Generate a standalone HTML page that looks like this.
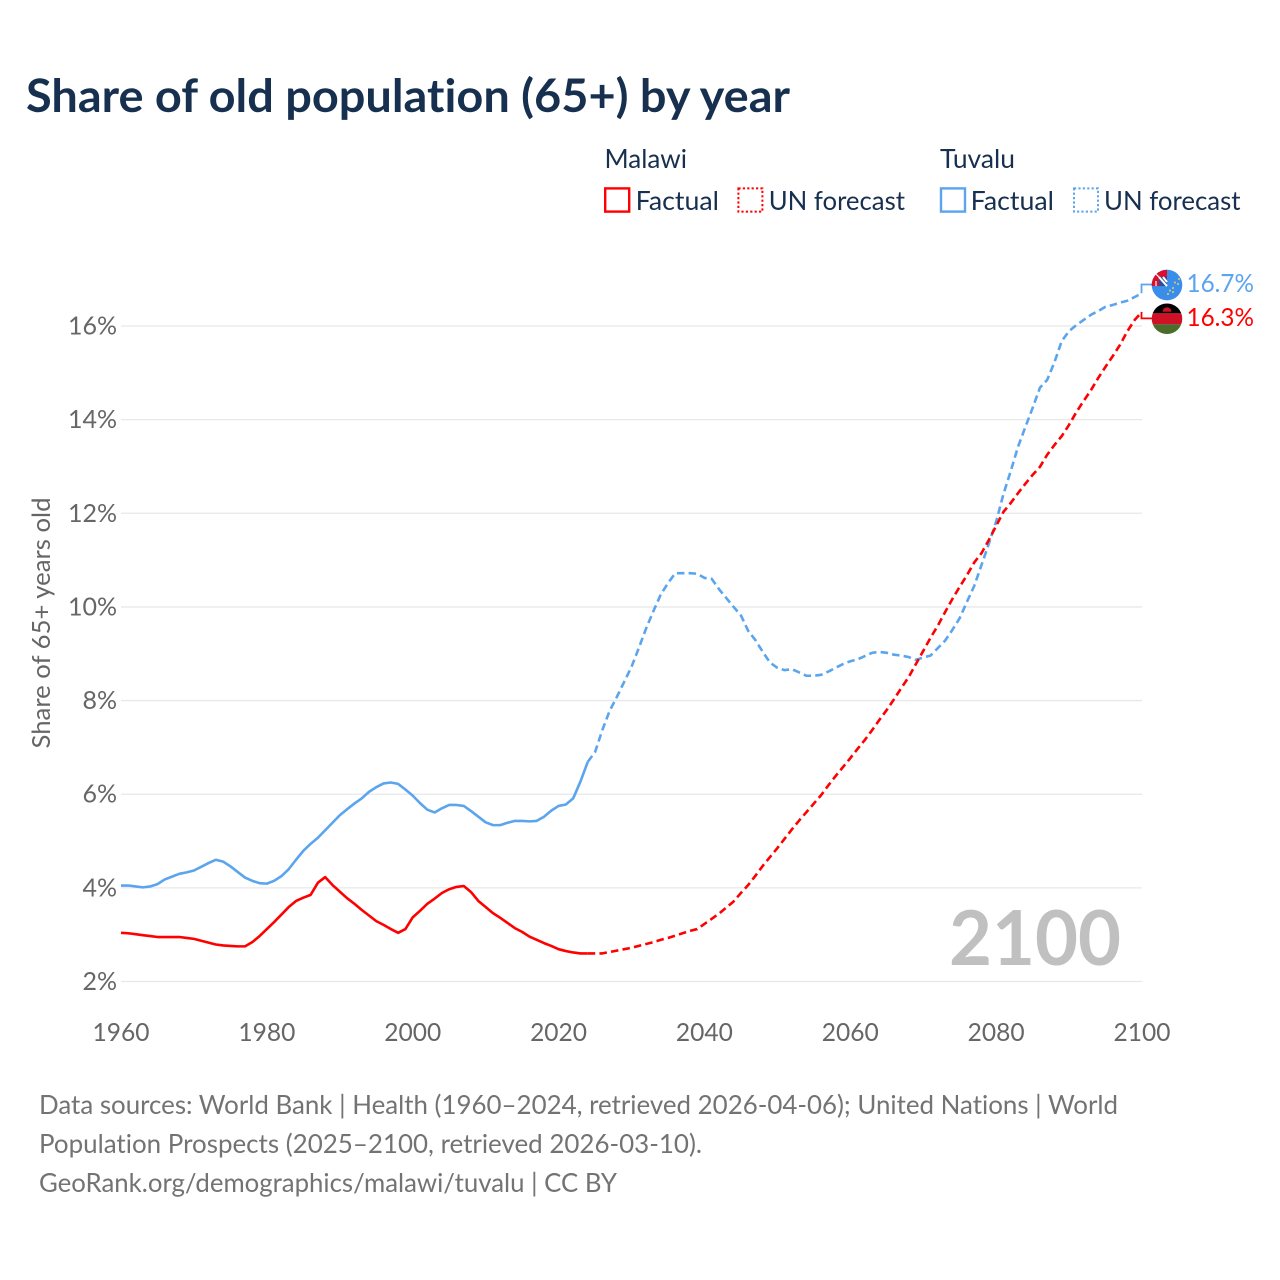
<!DOCTYPE html>
<html lang="en">
<head>
<meta charset="utf-8">
<title>Share of old population (65+) by year</title>
<style>
html,body{margin:0;padding:0;background:#fff;width:1280px;height:1280px;overflow:hidden}
svg{display:block}
text{font-family:"Lato","Carlito","Liberation Sans",sans-serif;font-variant-ligatures:none}
</style>
</head>
<body>
<svg id="chart" xmlns="http://www.w3.org/2000/svg" width="1280" height="1280" viewBox="0 0 1280 1280">
  <defs>
    <clipPath id="flag-clip"><circle cx="0" cy="0" r="15.3"></circle></clipPath>
  </defs>
  <rect x="0" y="0" width="1280" height="1280" fill="#ffffff"></rect>
  <text x="26" y="112" font-size="46" font-weight="700" fill="#17304f" textLength="764" lengthAdjust="spacingAndGlyphs">Share of old population (65+) by year</text>

  <g font-size="26" fill="#17304f">
    <text x="604.5" y="168" textLength="82.5" lengthAdjust="spacingAndGlyphs">Malawi</text>
    <text x="940" y="168" textLength="75" lengthAdjust="spacingAndGlyphs">Tuvalu</text>
    <rect x="605.2" y="188.4" width="24" height="23.2" fill="none" stroke="#ff0000" stroke-width="2.4"></rect>
    <text x="635.7" y="210" textLength="83.3" lengthAdjust="spacingAndGlyphs">Factual</text>
    <rect x="738.4" y="188.4" width="24" height="23.2" fill="none" stroke="#ff0000" stroke-width="2" stroke-dasharray="2.2 2.2"></rect>
    <text x="768.7" y="210" textLength="136.3" lengthAdjust="spacingAndGlyphs">UN forecast</text>
    <rect x="941" y="188.4" width="24" height="23.2" fill="none" stroke="#5ba4ee" stroke-width="2.4"></rect>
    <text x="970.7" y="210" textLength="83.3" lengthAdjust="spacingAndGlyphs">Factual</text>
    <rect x="1074" y="188.4" width="24" height="23.2" fill="none" stroke="#5ba4ee" stroke-width="2" stroke-dasharray="2.2 2.2"></rect>
    <text x="1104" y="210" textLength="136.5" lengthAdjust="spacingAndGlyphs">UN forecast</text>
  </g>

  <g id="grid"></g>
  <g id="y-ticks" font-size="25" fill="#666666"></g>
  <g id="x-ticks" font-size="25" fill="#666666"></g>
  <text transform="translate(50 623) rotate(-90)" text-anchor="middle" font-size="25" fill="#666666" textLength="251" lengthAdjust="spacingAndGlyphs">Share of 65+ years old</text>
  <text x="949" y="965" font-size="76" font-weight="700" fill="#c0c0c0" textLength="172" lengthAdjust="spacingAndGlyphs">2100</text>

  <g id="series"></g>

  <g id="flag-tuvalu">
    <g clip-path="url(#flag-clip)">
      <rect x="-16" y="-16" width="32" height="32" fill="#3a8eea"></rect>
      <rect x="-16" y="-16" width="16" height="17" fill="#d8102c"></rect>
      <rect x="-8" y="-8" width="8" height="9" fill="#2a4f9c"></rect>
      <path d="M-8 -8 L0 1 M-4 -8 L0 -3" stroke="#ffffff" stroke-width="2" fill="none"></path>
      <path d="M-11 -11 L-8 -8 M-11 -4 L-11 1" stroke="#ffffff" stroke-width="1.2" fill="none"></path>
      <g fill="#d8d36c">
        <circle cx="12" cy="-6" r="1"></circle><circle cx="8" cy="-2.5" r="1"></circle><circle cx="11" cy="-1" r="1"></circle>
        <circle cx="6" cy="3" r="1"></circle><circle cx="3" cy="5.5" r="1"></circle><circle cx="6" cy="7" r="1"></circle><circle cx="1" cy="9" r="1"></circle>
      </g>
    </g>
  </g>
  <g id="flag-malawi">
    <g clip-path="url(#flag-clip)">
      <rect x="-16" y="-16" width="32" height="10.6" fill="#000000"></rect>
      <rect x="-16" y="-5.4" width="32" height="11" fill="#ce1126"></rect>
      <rect x="-16" y="5.6" width="32" height="10.4" fill="#4a6d2c"></rect>
      <path d="M-4.5 -7 A4.5 4.5 0 0 1 4.5 -7 Z" fill="#ce1126"></path>
    </g>
  </g>
  <text id="label-tuvalu" x="1186.5" font-size="25" fill="#5ba4ee" textLength="67.5" lengthAdjust="spacingAndGlyphs"></text>
  <text id="label-malawi" x="1186.5" font-size="25" fill="#ff0000" textLength="67.5" lengthAdjust="spacingAndGlyphs"></text>

  <g font-size="26" fill="#737373">
    <text x="39" y="1114" textLength="1079" lengthAdjust="spacingAndGlyphs">Data sources: World Bank | Health (1960–2024, retrieved 2026-04-06); United Nations | World</text>
    <text x="39" y="1153" textLength="663" lengthAdjust="spacingAndGlyphs">Population Prospects (2025–2100, retrieved 2026-03-10).</text>
    <text x="39" y="1192" textLength="578" lengthAdjust="spacingAndGlyphs">GeoRank.org/demographics/malawi/tuvalu | CC BY</text>
  </g>
</svg>
<script>
const yTickValues = [2, 4, 6, 8, 10, 12, 14, 16];
const xTickYears = [1960, 1980, 2000, 2020, 2040, 2060, 2080, 2100];
const factualStartYear = 1960;
const forecastStartYear = 2024;
const malawiFactual = [
  3.04,3.03,3.01,2.99,2.97,2.95,2.95,2.95,2.95,2.93,
  2.91,2.87,2.83,2.79,2.77,2.76,2.75,2.75,2.84,2.97,
  3.12,3.27,3.43,3.59,3.72,3.79,3.85,4.11,4.23,4.06,
  3.92,3.78,3.66,3.53,3.41,3.29,3.21,3.12,3.04,3.12,
  3.37,3.51,3.66,3.77,3.89,3.97,4.02,4.04,3.91,3.72,
  3.59,3.46,3.36,3.25,3.14,3.06,2.96,2.89,2.82,2.76,
  2.69,2.65,2.62,2.60,2.60
];
const malawiForecast = [
  2.60,2.60,2.60,2.63,2.66,2.69,2.72,2.76,2.80,2.84,2.89,
  2.93,2.98,3.03,3.08,3.12,3.23,3.34,3.45,3.58,3.71,
  3.89,4.06,4.26,4.47,4.66,4.85,5.05,5.25,5.44,5.62,
  5.80,5.98,6.19,6.39,6.58,6.77,6.97,7.16,7.37,7.59,
  7.80,8.03,8.27,8.50,8.78,9.06,9.34,9.60,9.89,10.17,
  10.43,10.68,10.95,11.15,11.43,11.73,12.03,12.22,12.43,12.63,
  12.82,12.99,13.25,13.46,13.65,13.89,14.16,14.40,14.63,14.89,
  15.13,15.36,15.60,15.89,16.13,16.30
];
const tuvaluFactual = [
  4.05,4.05,4.03,4.01,4.03,4.08,4.18,4.24,4.30,4.33,
  4.37,4.45,4.53,4.60,4.56,4.46,4.34,4.22,4.15,4.10,
  4.09,4.15,4.25,4.40,4.60,4.79,4.94,5.07,5.23,5.39,
  5.55,5.68,5.80,5.91,6.05,6.15,6.23,6.25,6.22,6.10,
  5.97,5.81,5.67,5.61,5.70,5.77,5.77,5.75,5.64,5.52,
  5.40,5.34,5.34,5.39,5.43,5.43,5.42,5.43,5.52,5.65,
  5.75,5.78,5.91,6.27,6.69
];
const tuvaluForecast = [
  6.69,6.90,7.37,7.78,8.08,8.40,8.72,9.12,9.54,9.91,10.26,
  10.51,10.72,10.72,10.72,10.71,10.62,10.60,10.38,10.19,10.00,
  9.82,9.49,9.29,9.04,8.81,8.70,8.65,8.67,8.60,8.53,
  8.53,8.55,8.62,8.70,8.78,8.84,8.88,8.95,9.02,9.04,
  9.02,8.98,8.96,8.93,8.87,8.92,8.96,9.12,9.28,9.51,
  9.76,10.11,10.45,10.90,11.35,11.82,12.41,12.90,13.42,13.84,
  14.25,14.68,14.85,15.23,15.68,15.89,16.02,16.13,16.24,16.32,
  16.41,16.45,16.50,16.54,16.62,16.70
];

const NS = 'http://www.w3.org/2000/svg';
function xScale(year) { return 121 + (year - 1960) * (1142 - 121) / 140; }
function yScale(value) { return 981.5 - (value - 2) * (981.5 - 326) / 14; }
function pointsFor(values, startYear) {
  return values.map(function (v, i) {
    return xScale(startYear + i).toFixed(2) + ',' + yScale(v).toFixed(2);
  }).join(' ');
}
function drawLine(values, startYear, color, dash, name) {
  const line = document.createElementNS(NS, 'polyline');
  
  
  line.setAttribute('points', pointsFor(values, startYear));
  line.setAttribute('fill', 'none');
  line.setAttribute('stroke', color);
  line.setAttribute('stroke-width', '2.6');
  line.setAttribute('stroke-linejoin', 'round');
  if (dash) line.setAttribute('stroke-dasharray', dash);
  document.getElementById('series').appendChild(line);
}
function drawConnector(value, flagY, color, name) {
  const path = document.createElementNS(NS, 'polyline');
  
  
  const px = xScale(2100) - 0.5;
  path.setAttribute('points', px + ',' + yScale(value) + ' ' + px + ',' + flagY + ' ' + (px + 12) + ',' + flagY);
  path.setAttribute('fill', 'none');
  path.setAttribute('stroke', color);
  path.setAttribute('stroke-width', '1.8');
  document.getElementById('series').appendChild(path);
}

yTickValues.forEach(function (v) {
  const rule = document.createElementNS(NS, 'line');
  
  
  rule.setAttribute('x1', xScale(1960));
  rule.setAttribute('x2', xScale(2100));
  rule.setAttribute('y1', yScale(v));
  rule.setAttribute('y2', yScale(v));
  rule.setAttribute('stroke', '#e8e8e8');
  rule.setAttribute('stroke-width', '1.3');
  document.getElementById('grid').appendChild(rule);
  const label = document.createElementNS(NS, 'text');
  
  
  label.setAttribute('x', 117);
  label.setAttribute('y', yScale(v) + 8.5);
  label.setAttribute('text-anchor', 'end');
  label.textContent = v + '%';
  document.getElementById('y-ticks').appendChild(label);
});
xTickYears.forEach(function (year) {
  const label = document.createElementNS(NS, 'text');
  
  
  label.setAttribute('x', xScale(year));
  label.setAttribute('y', 1041);
  label.setAttribute('text-anchor', 'middle');
  label.setAttribute('textLength', '57');
  label.setAttribute('lengthAdjust', 'spacingAndGlyphs');
  label.textContent = year;
  document.getElementById('x-ticks').appendChild(label);
});

const tuvaluEnd = tuvaluForecast[tuvaluForecast.length - 1];
const malawiEnd = malawiForecast[malawiForecast.length - 1];
const tuvaluFlagY = yScale(tuvaluEnd) - 8.7;
const malawiFlagY = yScale(malawiEnd) + 6.4;

drawConnector(tuvaluEnd, tuvaluFlagY, '#5ba4ee', 'connector-tuvalu');
drawConnector(malawiEnd, malawiFlagY, '#ff0000', 'connector-malawi');
drawLine(tuvaluFactual, factualStartYear, '#5ba4ee', null, 'line-tuvalu-factual');
drawLine(tuvaluForecast, forecastStartYear, '#5ba4ee', '7.5 4.2', 'line-tuvalu-forecast');
drawLine(malawiFactual, factualStartYear, '#ff0000', null, 'line-malawi-factual');
drawLine(malawiForecast, forecastStartYear, '#ff0000', '7.5 4.2', 'line-malawi-forecast');

document.getElementById('flag-tuvalu').setAttribute('transform', 'translate(1167 ' + (tuvaluFlagY + 0.5) + ')');
document.getElementById('flag-malawi').setAttribute('transform', 'translate(1167 ' + (malawiFlagY + 0.4) + ')');
const tuvaluLabel = document.getElementById('label-tuvalu');
tuvaluLabel.setAttribute('y', tuvaluFlagY + 7.5);
tuvaluLabel.textContent = tuvaluEnd.toFixed(1) + '%';
const malawiLabel = document.getElementById('label-malawi');
malawiLabel.setAttribute('y', malawiFlagY + 7.7);
malawiLabel.textContent = malawiEnd.toFixed(1) + '%';
</script>
</body>
</html>
